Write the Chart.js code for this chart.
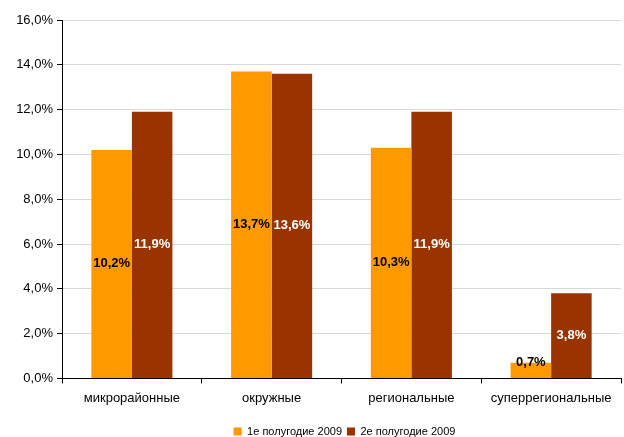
<!DOCTYPE html>
<html><head><meta charset="utf-8">
<script src="https://cdn.jsdelivr.net/npm/chart.js@4.4.0/dist/chart.umd.min.js"></script>
<style>html,body{margin:0;padding:0;background:#fff}#wrap{width:624px;height:437px}</style>
</head><body><div id="wrap"><canvas id="c"></canvas></div>
<script>
const categories = ['микрорайонные', 'окружные', 'региональные', 'суперрегиональные'];
const series1 = [10.2, 13.7, 10.3, 0.7];
const series2 = [11.9, 13.6, 11.9, 3.8];
const seriesNames = ['1е полугодие 2009', '2е полугодие 2009'];
const yTicks = [0, 2, 4, 6, 8, 10, 12, 14, 16];

const FONT = '"Liberation Sans", Arial, sans-serif';
const fmt = v => v.toFixed(1).replace('.', ',') + '%';

const labelPlugin = {
  id: 'barLabels',
  afterDatasetsDraw(chart) {
    const ctx = chart.ctx;
    const bottom = chart.chartArea.bottom;
    ctx.save();
    ctx.font = 'bold 13px ' + FONT;
    ctx.textAlign = 'center';
    ctx.textBaseline = 'middle';
    chart.data.datasets.forEach((ds, di) => {
      const meta = chart.getDatasetMeta(di);
      meta.data.forEach((bar, i) => {
        let y = (bar.y + bar.base) / 2;
        y = Math.min(y, bottom - 16);
        ctx.fillStyle = di === 0 ? '#000' : '#fff';
        ctx.fillText(fmt(ds.data[i]), bar.x, y);
      });
    });
    ctx.restore();
  }
};

const legendShift = {
  id: 'legendShift',
  afterLayout(chart) {
    const lg = chart.legend;
    if (!lg) return;
    const dx = 34, dy = 8;
    lg.left += dx; lg.right += dx;
    lg.top += dy; lg.bottom += dy;
  }
};

new Chart(document.getElementById('c'), {
  type: 'bar',
  data: {
    labels: categories,
    datasets: [
      { label: seriesNames[0], data: series1, backgroundColor: '#FF9900' },
      { label: seriesNames[1], data: series2, backgroundColor: '#993300' }
    ]
  },
  options: {
    responsive: true,
    maintainAspectRatio: false,
    animation: false,
    layout: { padding: { left: 0, right: 3, top: 20, bottom: -2 } },
    datasets: { bar: { categoryPercentage: 0.58, barPercentage: 1.0 } },
    scales: {
      x: {
        grid: { display: true, offset: true, drawOnChartArea: false, tickColor: '#000', tickLength: 5 },
        border: { color: '#000' },
        ticks: { color: '#000', font: { size: 13, family: FONT }, padding: 7 }
      },
      y: {
        min: 0, max: 16,
        afterBuildTicks: s => { s.ticks = yTicks.map(v => ({ value: v })); },
        afterFit: s => { s.width = 62; },
        grid: { color: '#d9d9d9', tickColor: '#000', tickLength: 5 },
        border: { color: '#000' },
        ticks: { color: '#000', font: { size: 13, family: FONT }, padding: 4, callback: v => fmt(v) }
      }
    },
    plugins: {
      legend: {
        position: 'bottom',
        labels: { boxWidth: 8, boxHeight: 8, padding: 5, color: '#000', font: { size: 11, family: FONT } }
      },
      tooltip: { enabled: false }
    }
  },
  plugins: [labelPlugin, legendShift]
});
</script></body></html>
